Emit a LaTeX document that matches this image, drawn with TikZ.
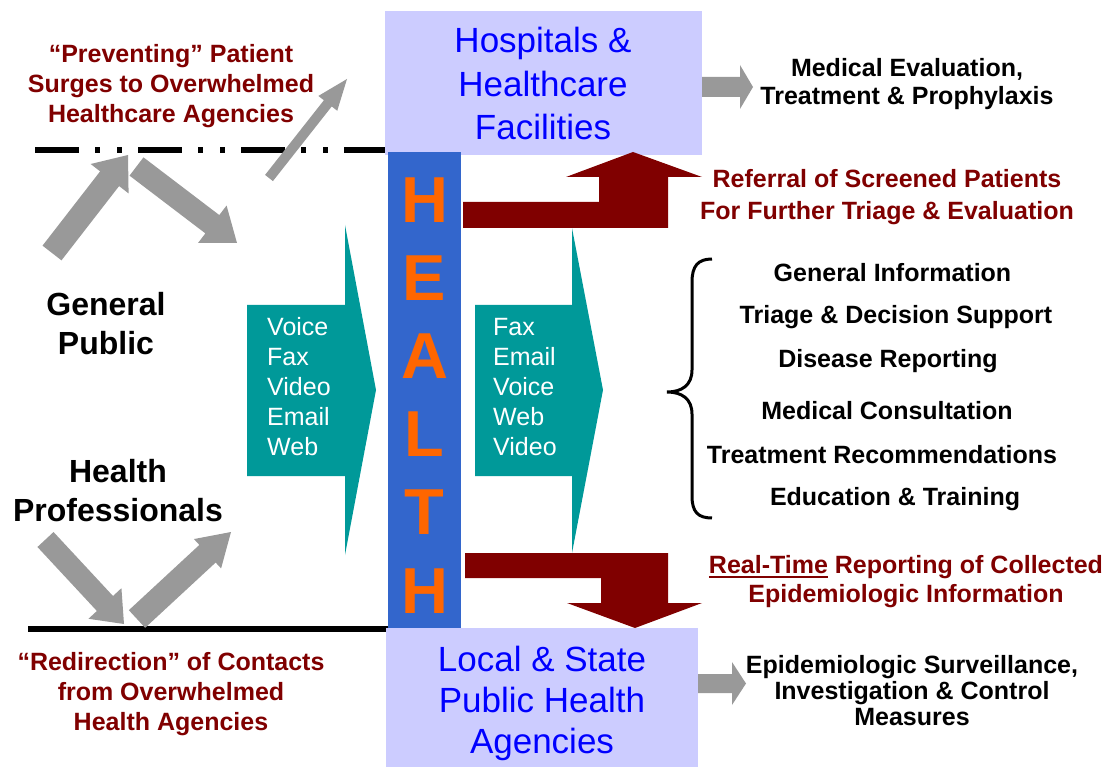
\documentclass[tikz,border=0pt]{standalone}
\usepackage{fontspec}
\setmainfont{Liberation Sans}
\usetikzlibrary{calc}
\definecolor{lav}{RGB}{204,204,255}
\definecolor{hblue}{RGB}{51,102,204}
\definecolor{horange}{RGB}{255,102,0}
\definecolor{tealc}{RGB}{0,153,153}
\definecolor{maroonc}{RGB}{128,0,0}
\definecolor{arrgray}{RGB}{153,153,153}
\definecolor{tblue}{RGB}{0,0,255}
\newcommand{\myul}[1]{\leavevmode\setbox0\hbox{#1}\rlap{\rule[-5pt]{\wd0}{2.5pt}}\box0\relax}
\newcommand{\blockarr}[5]{%
  \path (#1) coordinate (ba-t) (#2) coordinate (ba-p);
  \path ($(ba-p)!#5!(ba-t)$) coordinate (ba-h);
  \fill[arrgray] ($(ba-t)!#3!90:(ba-p)$) -- ($(ba-h)!#3!-90:(ba-t)$) -- ($(ba-h)!#4!-90:(ba-t)$) -- (ba-p) -- ($(ba-h)!#4!90:(ba-t)$) -- ($(ba-h)!#3!90:(ba-t)$) -- ($(ba-t)!#3!-90:(ba-p)$) -- cycle;}
\tikzset{
  txt/.style={align=center, anchor=base, inner sep=0pt},
  boxtxt/.style={txt, text=tblue, font=\fontsize{35}{43.5}\selectfont},
  boxtxtb/.style={txt, text=tblue, font=\fontsize{35}{41}\selectfont},
  redtxt/.style={txt, text=maroonc, font=\bfseries\fontsize{25}{30}\selectfont},
  blk/.style={txt, text=black, font=\bfseries\fontsize{25}{28}\selectfont},
  bigtxt/.style={txt, text=black, font=\bfseries\fontsize{32}{39}\selectfont},
  htxt/.style={txt, text=horange, font=\bfseries\fontsize{65}{78.2}\selectfont},
  tealtxt/.style={align=left, anchor=base west, inner sep=0pt, text=white, font=\fontsize{25}{30}\selectfont},
  lavbox/.style={fill=lav, draw=none},
  redarr/.style={fill=maroonc, draw=none},
  tealarr/.style={fill=tealc, draw=none},
  grayarr/.style={fill=arrgray, draw=none}
}
\begin{document}
\begin{tikzpicture}[x=1pt,y=-1pt]
\useasboundingbox (0,0) rectangle (1109,767);
% horizontal lines
\draw[line width=5.5pt, dash pattern=on 44pt off 16pt on 5pt off 17pt on 5pt off 16pt] (35,150) -- (386,150);
\draw[line width=5.5pt] (28,629) -- (388,629);
% boxes
\path[lavbox] (385,11) rectangle (702,155);
\path[lavbox] (386,628) rectangle (698,767);
\fill[hblue] (388,152) rectangle (461,628);
% red arrows
\path[redarr] (463,228) -- (668,228) -- (668,177) -- (702,177) -- (633,152) -- (566,177) -- (599,177) -- (599,202) -- (463,202) -- cycle;
\path[redarr] (465,553) -- (668,553) -- (668,603) -- (702,603) -- (635,628) -- (567,603) -- (601,603) -- (601,578) -- (465,578) -- cycle;
% teal arrows
\path[tealarr] (247,305) -- (345,305) -- (345,225) -- (376,390) -- (345,555) -- (345,476) -- (247,476) -- cycle;
\path[tealarr] (475,305) -- (572,305) -- (572,228) -- (603,390) -- (572,553) -- (572,476) -- (475,476) -- cycle;
% gray horizontal arrows
\path[grayarr] (702,77) -- (740,77) -- (740,65) -- (753,87) -- (740,109) -- (740,97) -- (702,97) -- cycle;
\path[grayarr] (698,674) -- (732,674) -- (732,662) -- (746,683.5) -- (732,705) -- (732,693) -- (698,693) -- cycle;
% gray diagonal arrows
\blockarr{52,253}{128,155}{12pt}{24pt}{30pt}
\blockarr{136.5,166.5}{237,243}{11.5pt}{23.5pt}{31pt}
\blockarr{269,178}{347,79}{5pt}{12pt}{31pt}
\blockarr{45.5,539.5}{124,624}{11pt}{22.5pt}{28pt}
\blockarr{137,619}{231,532}{12pt}{20pt}{32pt}
% brace
\draw[line width=3pt] (712,259) .. controls (698,259) and (692,266) .. (692,282) -- (692,370) .. controls (692,385) and (682,392) .. (667,392) .. controls (682,392) and (692,399) .. (692,414) -- (692,496) .. controls (692,512) and (698,518) .. (712,518);
% texts (anchor = baseline of last line)
\node[redtxt] (prev) at (171,123) {“Preventing” Patient\\Surges to Overwhelmed\\Healthcare Agencies};
\node[redtxt] (redir) at (171,730) {“Redirection” of Contacts\\from Overwhelmed\\Health Agencies};
\node[bigtxt] (gp) at (106,355) {General\\Public};
\node[bigtxt] (hp) at (118,521) {Health\\Professionals};
\node[boxtxt] (hosp) at (543,140) {Hospitals \&\\Healthcare\\Facilities};
\node[boxtxtb] (local) at (542,753) {Local \& State\\Public Health\\Agencies};
\node[htxt] (health) at (424.5,613) {H\\E\\A\\L\\T\\H};
\node[tealtxt] (tin) at (267,455) {Voice\\Fax\\Video\\Email\\Web};
\node[tealtxt] (tout) at (493,455) {Fax\\Email\\Voice\\Web\\Video};
\node[blk] (med) at (907,105) {Medical Evaluation,\\Treatment \& Prophylaxis};
\node[redtxt, font=\bfseries\fontsize{25}{31.5}\selectfont] (ref) at (887,219.5) {Referral of Screened Patients\\For Further Triage \& Evaluation};
\node[blk] (l1) at (892.5,282) {General Information};
\node[blk] (l2) at (896,324) {Triage \& Decision Support};
\node[blk] (l3) at (888,367) {Disease Reporting};
\node[blk] (l4) at (887,420) {Medical Consultation};
\node[blk] (l5) at (882,463) {Treatment Recommendations};
\node[blk] (l6) at (895,505) {Education \& Training};
\node[redtxt, font=\bfseries\fontsize{25}{29}\selectfont] (rt) at (906,602) {\myul{Real-Time} Reporting of Collected\\Epidemiologic Information};
\node[blk, font=\bfseries\fontsize{25}{26}\selectfont] (epi) at (912,725) {Epidemiologic Surveillance,\\Investigation \& Control\\Measures};
\end{tikzpicture}
\end{document}
